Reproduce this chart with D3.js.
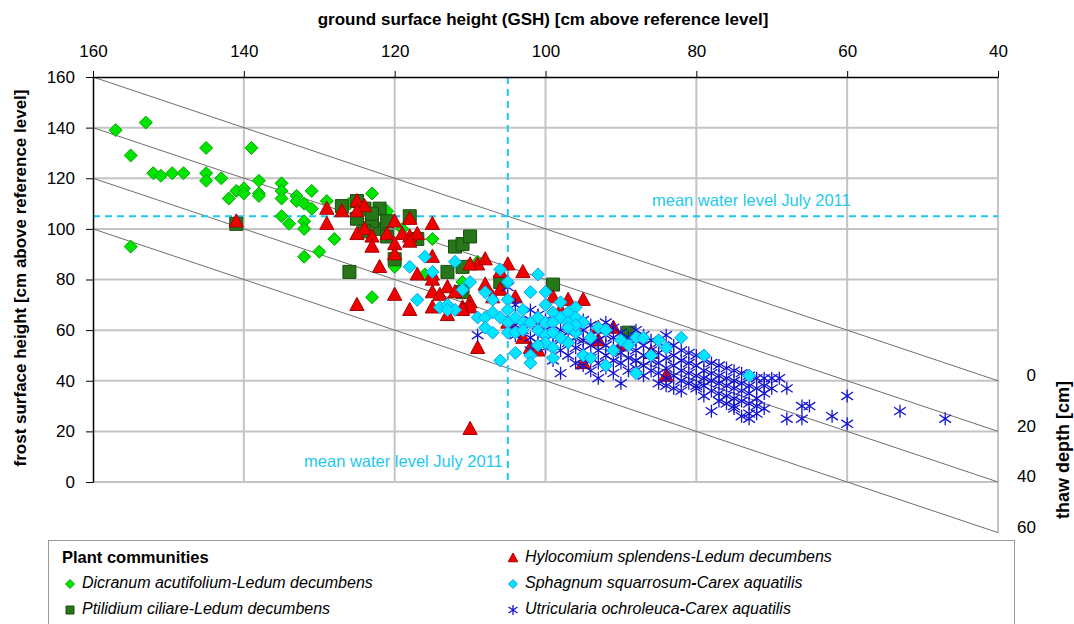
<!DOCTYPE html>
<html>
<head>
<meta charset="utf-8">
<script src="https://cdn.jsdelivr.net/npm/d3@7"></script>
<style>
  body { margin: 0; background: #fff; }
  text { font-family: "Liberation Sans", Arial, sans-serif; }
</style>
</head>
<body>
<svg id="chart" width="1074" height="624"></svg>
<script>
// ticks
const gshTicks = [160, 140, 120, 100, 80, 60, 40];
const fshTicks = [0, 20, 40, 60, 80, 100, 120, 140, 160];
const depthTicks = [0, 20, 40, 60];
const meanWater = 105;

// [GSH, FSH] per plant community
const dicranum = [
  [157,139],[153,142],[155,129],[155,93],[152,122],[151,121],[149.5,122],[148,122],
  [145,132],[145,122],[145,119],[143,120],[142,112],[141,115],[140,116],[140,114],
  [139,132],[138,119],[138,114],[138,113],[135,118],[135,115],[135,112],[133,113],
  [133,111],[132,110],[131,115],[131,108],[135,105],[134,102],[132,103],[132,100],
  [129,111],[128,96],[130,91],[132,89],[123,114],[123,73],[121,107],[115,96],
  [116,82],[120,85],[109,87],[111,79],[126,110],[119,100]
];
const ptilidium = [
  [141,102],[127,109],[125,111],[125,104],[124,108],[122,108],[122,100],[123,103],
  [121,103],[118,105],[120,88],[117,96],[126,83],[112,93],[111,94],[110,97],
  [111,85],[113,83],[111,75],[106,79],[99,78],[89,59],[123,106],[124,99],[121,97]
];
const hylocomium = [
  [141,103],[129,108],[129,102],[127,107],[125,111],[124,109],[125,107],[120,103],
  [118,104],[115,102],[124,100],[125,98],[123,97],[121,98],[119,98],[118,97],
  [117,98],[118,95],[120,94],[123,93],[120,90],[115,89],[122,85],[117,82],
  [115,82],[115,80],[120,74],[125,70],[118,68],[115,75],[114,74],[113,77],
  [115,69],[113,70],[113,66],[112,75],[110,71],[110,69],[111,69],[109,86],
  [110,86],[108,88],[105,86],[106,83],[103,83],[111,68],[108,78],[107,73],
  [106,76],[104,73],[99,73],[97,72],[95,72],[109,53],[102,53],[101,52],
  [95,47],[105,63],[103,57],[90,54],[91,61],[93,61],[86,51],[84,42],
  [110,21],[101,65],[98,68],[93,56]
];
const sphagnum = [
  [116,89],[118,85],[115,83],[117,72],[114,69],[112,87],[106,84],[101,82],
  [105,79],[110,79],[111,76],[108,75],[102,75],[100,75],[107,72],[105,72],
  [100,70],[98,71],[96,69],[113,70],[112,68],[113,68],[109,65],[108,65],
  [107,67],[106,65],[105,68],[105,63],[104,65],[103,68],[103,63],[102,63],
  [101,65],[100,63],[99,67],[99,63],[98,65],[97,67],[97,63],[96,65],
  [95,63],[108,61],[107,59],[105,59],[104,59],[103,60],[101,60],[100,58],
  [99,59],[100,55],[101,54],[104,51],[106,48],[102,50],[102,47],[99,53],
  [99,49],[97,55],[95,50],[96,59],[98,57],[93,61],[92,60],[90,56],
  [88,57],[87,57],[85,56],[82,57],[84,53],[79,50],[73,42],[88,43],
  [94,49],[92,46],[86,50],[91,52],[89,54],[94,57],[96,62],[97,61]
];
const utricularia = [
  [105,77],[104,70],[102,68],[101,66],[109,58],
  [104,62],[104,58],[103,60],[102,64],[102,57],[102,52],[101,62],[101,59],[101,55],
  [100,64],[100,60],[100,56],[100,53],[99,62],[99,58],[99,54],[99,48],
  [98,65],[98,60],[98,57],[98,52],[98,43],[97,63],[97,59],[97,55],[97,50],
  [96,61],[96,57],[96,53],[96,47],[95,64],[95,60],[95,56],[95,52],[95,46],
  [94,62],[94,58],[94,54],[94,49],[93,60],[93,56],[93,52],[93,47],[93,41],
  [92,63],[92,58],[92,54],[92,50],[92,45],[91,61],[91,57],[91,52],[91,48],
  [90,59],[90,55],[90,51],[90,47],[90,39],[89,57],[89,53],[89,49],[89,44],
  [88,60],[88,56],[88,52],[88,48],[88,45],[87,58],[87,54],[87,50],[87,46],
  [86,56],[86,52],[86,48],[86,44],[85,55],[85,51],[85,47],[85,43],[85,39],
  [84,58],[84,53],[84,49],[84,45],[84,41],[83,54],[83,50],[83,46],[83,42],[83,37],
  [82,52],[82,48],[82,44],[82,40],[81,51],[81,47],[81,43],[81,39],
  [80,50],[80,46],[80,42],[80,38],[80,37],[79,48],[79,44],[79,41],[79,38],
  [78,47],[78,43],[78,40],[78,36],[78,28],[77,46],[77,42],[77,39],[77,35],
  [76,45],[76,41],[76,38],[76,34],[76,31],[75,44],[75,40],[75,37],[75,33],[75,30],
  [74,43],[74,39],[74,36],[74,32],[73,42],[73,38],[73,35],[73,31],[73,27],[73,25],
  [72,41],[72,37],[72,33],[72,30],[71,41],[71,38],[71,35],[71,29],
  [70,41],[70,37],[69,41],[68,37],[68,25],[66,25],[66,30],[65,30],[62,26],
  [60,34],[60,23],[53,28],[47,25],
  [94,44],[91,43],[87,42],[84,38],[82,36],[79,34],[77,32],[75,29],[72,27],[74,26]
];

const svg = d3.select("#chart");

const x = d3.scaleLinear().domain([160, 40]).range([93, 998]);
const y = d3.scaleLinear().domain([0, 160]).range([482, 77]);

// grid
svg.append("g")
  .selectAll("line")
  .data(fshTicks.slice(0, -1))
  .join("line")
  .attr("x1", x(160)).attr("x2", x(40))
  .attr("y1", d => y(d)).attr("y2", d => y(d))
  .attr("stroke", "#c4c4c4").attr("stroke-width", 2);

svg.append("g")
  .selectAll("line")
  .data(gshTicks.slice(1))
  .join("line")
  .attr("x1", d => x(d)).attr("x2", d => x(d))
  .attr("y1", y(160))
  .attr("y2", d => d === 40 ? y(40 - 60) : y(0))
  .attr("stroke", "#c4c4c4").attr("stroke-width", 2);

// thaw depth lines: FSH = GSH - depth
svg.append("g")
  .selectAll("line")
  .data(depthTicks)
  .join("line")
  .attr("x1", x(160)).attr("y1", d => y(160 - d))
  .attr("x2", x(40)).attr("y2", d => y(40 - d))
  .attr("stroke", "#6e6e6e").attr("stroke-width", 1);

// mean water level
svg.append("line")
  .attr("x1", x(160)).attr("x2", x(40))
  .attr("y1", y(meanWater)).attr("y2", y(meanWater))
  .attr("stroke", "#1ec8f0").attr("stroke-width", 2)
  .attr("stroke-dasharray", "7,5");
svg.append("line")
  .attr("x1", x(meanWater)).attr("x2", x(meanWater))
  .attr("y1", y(160)).attr("y2", y(0))
  .attr("stroke", "#1ec8f0").attr("stroke-width", 2)
  .attr("stroke-dasharray", "7,5");

svg.append("text")
  .attr("x", 652).attr("y", y(meanWater) - 10)
  .style("font-size", "16.5px").style("fill", "#1ec8f0")
  .text("mean water level July 2011");
svg.append("text")
  .attr("x", x(meanWater) - 5).attr("y", 467)
  .attr("text-anchor", "end")
  .style("font-size", "16.5px").style("fill", "#1ec8f0")
  .text("mean water level July 2011");

// axes
const topAxis = svg.append("g").attr("transform", `translate(0,${y(160)})`)
  .call(d3.axisTop(x).tickValues(gshTicks).tickSize(6).tickSizeOuter(0));
const leftAxis = svg.append("g").attr("transform", `translate(${x(160)},0)`)
  .call(d3.axisLeft(y).tickValues(fshTicks).tickSize(7).tickSizeOuter(0));
[topAxis, leftAxis].forEach(g => {
  g.select(".domain").attr("stroke", "#000").attr("stroke-width", 1.5);
  g.selectAll(".tick line").attr("stroke", "#000");
  g.selectAll(".tick text")
    .style("font-family", '"Liberation Sans", Arial, sans-serif')
    .style("font-size", "17px").attr("fill", "#000");
});
topAxis.selectAll(".tick text").attr("y", -20);
leftAxis.selectAll(".tick text").attr("x", -18);

// thaw depth labels
svg.append("g")
  .selectAll("text")
  .data(depthTicks)
  .join("text")
  .attr("x", 1036)
  .attr("y", d => y(40 - d) - 4)
  .attr("text-anchor", "end")
  .attr("dominant-baseline", "middle")
  .style("font-size", "17px")
  .text(d => d);

// titles
svg.append("text")
  .attr("x", 543).attr("y", 25)
  .attr("text-anchor", "middle")
  .style("font-size", "17px").style("font-weight", "bold")
  .text("ground surface height (GSH) [cm above reference level]");
svg.append("text")
  .attr("transform", "translate(26,278) rotate(-90)")
  .attr("text-anchor", "middle")
  .style("font-size", "17px").style("font-weight", "bold")
  .text("frost surface height [cm above reference level]");
svg.append("text")
  .attr("transform", "translate(1069,450) rotate(-90)")
  .attr("text-anchor", "middle")
  .style("font-size", "18px").style("font-weight", "bold")
  .text("thaw depth [cm]");

// marker shapes
const diamond = r => `M0,${-r}L${r},0L0,${r}L${-r},0Z`;
const square = r => `M${-r},${-r}H${r}V${r}H${-r}Z`;
const triangle = r => `M0,${-r}L${r * 0.95},${r * 0.75}L${-r * 0.95},${r * 0.75}Z`;
const star = r => `M0,${-r}V${r}M${-r * 0.9},${-r * 0.6}L${r * 0.9},${r * 0.6}M${-r * 0.9},${r * 0.6}L${r * 0.9},${-r * 0.6}`;

const series = [
  { name: "Dicranum acutifolium-Ledum decumbens", data: dicranum, path: diamond(6.5), lp: diamond(4.5),
    fill: "#00e400", stroke: "#00a800", sw: 1 },
  { name: "Ptilidium ciliare-Ledum decumbens", data: ptilidium, path: square(6.5), lp: square(4),
    fill: "#27761a", stroke: "#1a4f10", sw: 1 },
  { name: "Hylocomium splendens-Ledum decumbens", data: hylocomium, path: triangle(7.5), lp: triangle(5),
    fill: "#ee0000", stroke: "#a80000", sw: 1 },
  { name: "Utricularia ochroleuca-Carex aquatilis", data: utricularia, path: star(6.5), lp: star(5),
    fill: "none", stroke: "#1414d2", sw: 1.3 },
  { name: "Sphagnum squarrosum-Carex aquatilis", data: sphagnum, path: diamond(6.5), lp: diamond(4.5),
    fill: "#00e6ff", stroke: "#1a9cf0", sw: 1 }
];

series.forEach(s => {
  svg.append("g")
    .selectAll("path")
    .data(s.data)
    .join("path")
    .attr("transform", d => `translate(${x(d[0])},${y(d[1])})`)
    .attr("d", s.path)
    .attr("fill", s.fill)
    .attr("stroke", s.stroke)
    .attr("stroke-width", s.sw);
});

// legend
const legend = svg.append("g");
legend.append("rect")
  .attr("x", 48.5).attr("y", 540.5).attr("width", 966).attr("height", 100)
  .attr("fill", "#fff").attr("stroke", "#9a9a9a");
legend.append("text")
  .attr("x", 62).attr("y", 563)
  .style("font-size", "16.5px").style("font-weight", "bold")
  .text("Plant communities");

const legendPos = [
  { s: 0, mx: 70, ty: 584 },
  { s: 1, mx: 70, ty: 610 },
  { s: 2, mx: 513, ty: 558 },
  { s: 4, mx: 513, ty: 584 },
  { s: 3, mx: 513, ty: 610 }
];
legendPos.forEach(p => {
  const s = series[p.s];
  legend.append("path")
    .attr("transform", `translate(${p.mx},${p.ty})`)
    .attr("d", s.lp)
    .attr("fill", s.fill).attr("stroke", s.stroke).attr("stroke-width", s.sw);
  const parts = s.name.split("-");
  const t = legend.append("text")
    .attr("x", p.mx + 12).attr("y", p.ty)
    .attr("dominant-baseline", "middle")
    .style("font-size", "16px").style("font-style", "italic");
  t.append("tspan").text(parts[0]);
  t.append("tspan").style("font-weight", s.name.includes("Carex") ? "bold" : "normal").text("-");
  t.append("tspan").text(parts[1]);
});
</script>
</body>
</html>
